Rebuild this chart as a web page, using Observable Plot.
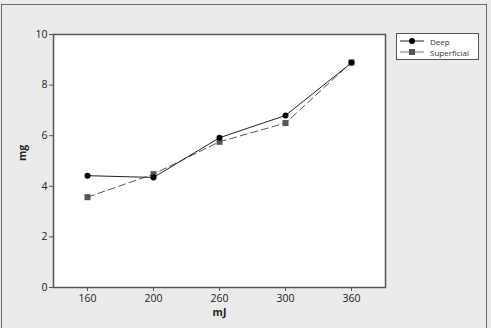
<!DOCTYPE html>
<html>
<head>
<meta charset="utf-8">
<script src="https://cdn.jsdelivr.net/npm/d3@7"></script>
<script src="https://cdn.jsdelivr.net/npm/@observablehq/plot@0.6"></script>
<style>
  html, body { margin: 0; padding: 0; background: #ebebeb; }
  #wrap { position: relative; width: 491px; height: 328px; overflow: hidden; background: #ebebeb; }
  #outer { position: absolute; left: 1px; top: 4px; width: 486px; height: 340px; border: 1.5px solid #6a6a6a; box-sizing: border-box; }
  #legend { position: absolute; left: 396px; top: 33px; width: 83px; height: 27px; border: 1.2px solid #555; background: #fff; box-sizing: border-box; font-family: "Open Sans", sans-serif; font-size: 8px; color: #333; }
  #legend .row { position: absolute; left: 3px; height: 10px; display: flex; align-items: center; }
  #legend svg { margin-right: 6px; }
</style>
</head>
<body>
<div id="wrap">
  <div id="outer"></div>
  <div id="chart"></div>
  <div id="legend"></div>
</div>
<script>
const energies = ["160", "200", "260", "300", "360"];
const deep = [4.42, 4.35, 5.92, 6.8, 8.88];
const superficial = [3.57, 4.48, 5.76, 6.5, 8.9];
const seriesNames = ["Deep", "Superficial"];
const yTicks = [0, 2, 4, 6, 8, 10];

const rows = [];
energies.forEach((e, i) => rows.push({series: "Deep", mj: e, mg: deep[i]}));
energies.forEach((e, i) => rows.push({series: "Superficial", mj: e, mg: superficial[i]}));
const deepRows = rows.filter(d => d.series === "Deep");
const supRows = rows.filter(d => d.series === "Superficial");

const chart = Plot.plot({
  width: 491,
  height: 328,
  marginLeft: 53,
  marginRight: 106,
  marginTop: 34,
  marginBottom: 41,
  style: {background: "transparent", fontFamily: "'Open Sans', sans-serif", fontSize: "10px", color: "#222", overflow: "visible"},
  x: {type: "point", domain: energies, padding: 0.5, label: null},
  y: {domain: [0, 10], label: null},
  marks: [
    Plot.frame({fill: "white", stroke: "none"}),
    Plot.axisX({ticks: energies, tickSize: 4, tickPadding: 3, stroke: "#555", fill: "#222", fontSize: 10.5}),
    Plot.axisY({ticks: yTicks, tickSize: 4, tickPadding: 2, stroke: "#555", fill: "#222", fontSize: 10.5}),
    Plot.text(["mJ"], {frameAnchor: "bottom", dy: 28, text: d => d, fontWeight: "bold", fontSize: 10.5, fill: "#222"}),
    Plot.text(["mg"], {frameAnchor: "left", dx: -31, text: d => d, rotate: -90, fontWeight: "bold", fontSize: 10.5, fill: "#222"}),
    Plot.line(supRows, {x: "mj", y: "mg", stroke: "#555", strokeWidth: 1, strokeDasharray: "7,4"}),
    Plot.line(deepRows, {x: "mj", y: "mg", stroke: "#222", strokeWidth: 1}),
    Plot.dot(supRows, {x: "mj", y: "mg", symbol: "square", r: 3.4, fill: "#555", stroke: "none"}),
    Plot.dot(deepRows, {x: "mj", y: "mg", symbol: "circle", r: 3, fill: "#000", stroke: "none"}),
    Plot.frame({stroke: "#555", strokeWidth: 1.5})
  ]
});
document.getElementById("chart").appendChild(chart);

// Legend
const legend = document.getElementById("legend");
const legendStyles = {
  "Deep": {dash: null, color: "#222", sym: "circle", fill: "#000"},
  "Superficial": {dash: null, color: "#777", sym: "square", fill: "#555"}
};
seriesNames.forEach((name, i) => {
  const row = document.createElement("div");
  row.className = "row";
  row.style.top = (2 + i * 11) + "px";
  const s = legendStyles[name];
  const symbol = s.sym === "circle"
    ? `<circle cx="12" cy="5" r="3" fill="${s.fill}"/>`
    : `<rect x="9" y="2" width="6" height="6" fill="${s.fill}"/>`;
  row.innerHTML = `<svg width="24" height="10"><line x1="0" x2="24" y1="5" y2="5" stroke="${s.color}" stroke-width="1" ${s.dash ? `stroke-dasharray="${s.dash}"` : ""}/>${symbol}</svg><span>${name}</span>`;
  legend.appendChild(row);
});
</script>
</body>
</html>
